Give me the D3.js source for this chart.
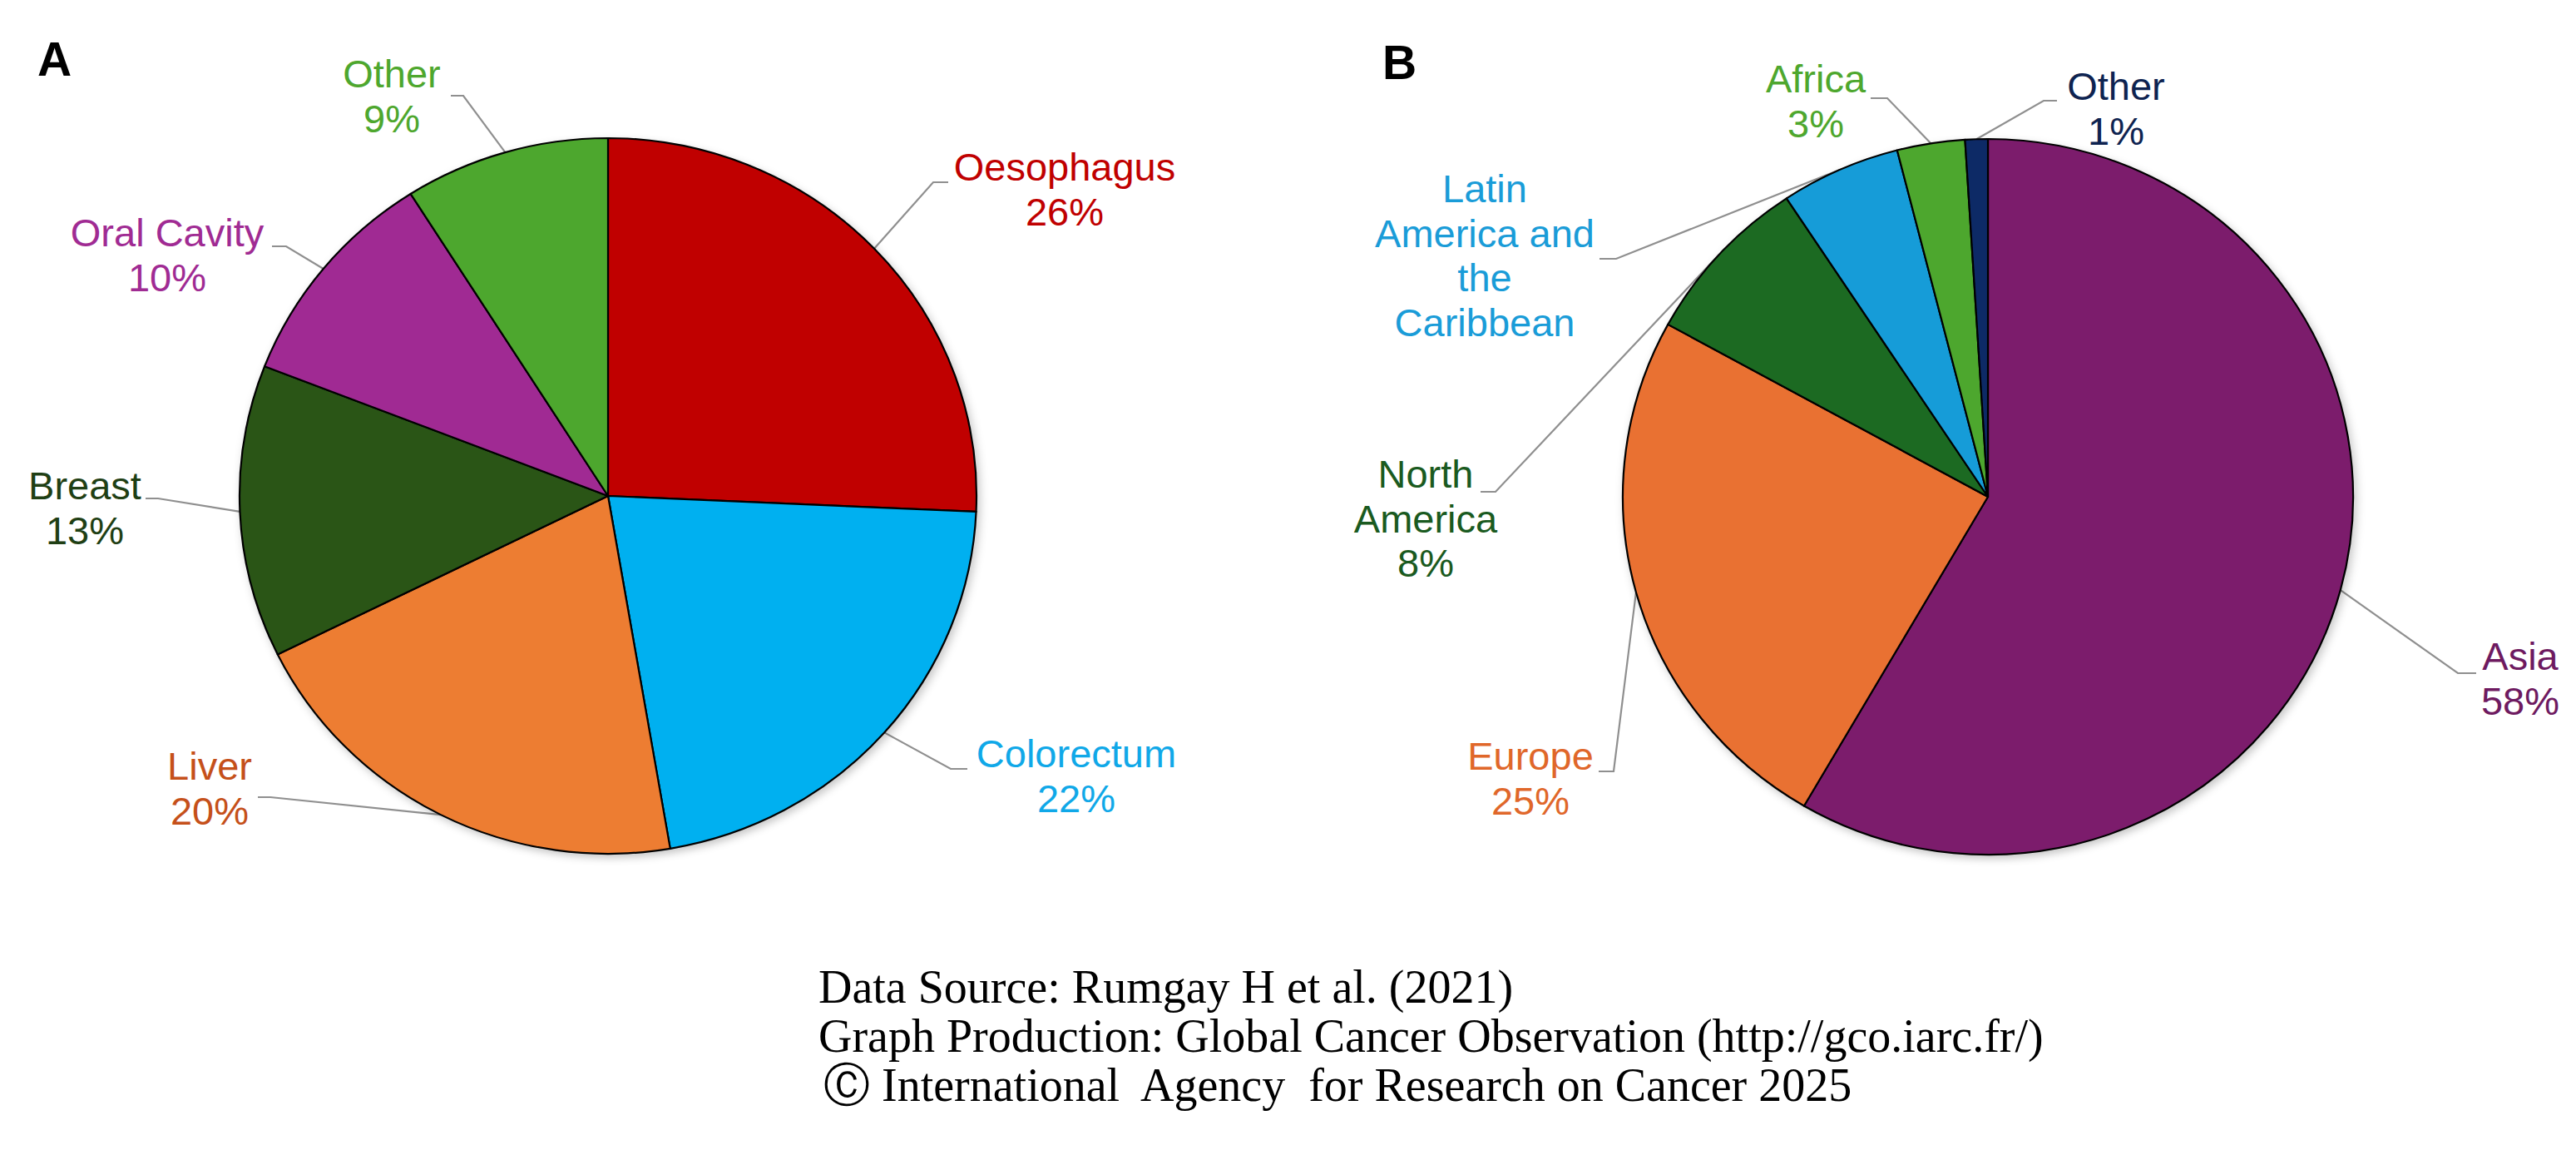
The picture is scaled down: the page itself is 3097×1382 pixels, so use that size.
<!DOCTYPE html>
<html>
<head>
<meta charset="utf-8">
<script src="https://cdn.jsdelivr.net/npm/d3@7/dist/d3.min.js"></script>
<style>
  html, body { margin: 0; padding: 0; background: #fff; }
  svg text { font-family: "Liberation Sans", Arial, sans-serif; }
</style>
</head>
<body>
<div id="container"></div>
<script>
// panel A: cancer sites
const cancerSites = ['Oesophagus', 'Colorectum', 'Liver', 'Breast', 'Oral Cavity', 'Other'];
const cancerShares = [25.7, 21.6, 20.4, 13.2, 10.1, 9.0];
const cancerLabelLines = [['Oesophagus'], ['Colorectum'], ['Liver'], ['Breast'], ['Oral Cavity'], ['Other']];
const cancerFill = ['#c00000', '#00b0f0', '#ed7d31', '#2a5418', '#a02b93', '#4ea72e'];
const cancerText = ['#c00000', '#10a8e8', '#c5501a', '#1f3f14', '#a02b93', '#4ea72e'];

// panel B: world regions
const regions = ['Asia', 'Europe', 'North America', 'Latin America and the Caribbean', 'Africa', 'Other'];
const regionShares = [58.4, 24.6, 7.7, 5.3, 3.0, 1.0];
const regionLabelLines = [['Asia'], ['Europe'], ['North', 'America'], ['Latin', 'America and', 'the', 'Caribbean'], ['Africa'], ['Other']];
const regionShowPct = [true, true, true, false, true, true];
const regionFill = ['#7b1f6c', '#e97132', '#1c6a24', '#149cd8', '#4ea72e', '#0e2a66'];
const regionText = ['#6e1a60', '#e0672a', '#1a5a20', '#1a9cd8', '#4ea72e', '#0e2350'];

const footerLines = [
  'Data Source: Rumgay H et al. (2021)',
  'Graph Production: Global Cancer Observation (http://gco.iarc.fr/)',
  '\u24b8 International  Agency  for Research on Cancer 2025'
];

// label placement, relative to pie centre: [text x, first baseline, line end x, line y, elbow x]
const cancerLayout = [
  [549, -379, 409, -377, 391],
  [563, 326, 432, 328, 412],
  [-479, 341, -421, 362, -406],
  [-629, 4, -556, 3, -541],
  [-530, -300, -404, -300, -387],
  [-260, -491, -189, -481, -174]
];
const regionLayout = [
  [640, 208, 587, 212, 565],
  [-550, 328, -468, 330, -450],
  [-676, -11, -610, -6, -592],
  [-605, -354, -467, -286, -447],
  [-207, -486, -141, -479, -121],
  [154, -477, 83, -476, 67]
];

const width = 3097, height = 1382;
const fontSize = 47, lineH = 53.5;

const svg = d3.select('#container').append('svg')
  .attr('width', width).attr('height', height)
  .attr('viewBox', `0 0 ${width} ${height}`);

const defs = svg.append('defs');
defs.append('filter').attr('id', 'shadow').attr('x', '-10%').attr('y', '-10%').attr('width', '120%').attr('height', '120%')
  .append('feDropShadow').attr('dx', 3).attr('dy', 4).attr('stdDeviation', 5)
  .attr('flood-color', '#000').attr('flood-opacity', 0.22);

function drawPie(opts) {
  const { cx, cy, rx, ry, values, fills, textColors, lines, showPct, layout } = opts;
  const sx = rx / ry;
  const pie = d3.pie().sort(null).value(d => d)(values);
  const arc = d3.arc().innerRadius(0).outerRadius(ry);

  // leader lines go under the pie
  const leaders = svg.append('g');
  pie.forEach((p, i) => {
    const a = (p.startAngle + p.endAngle) / 2;
    const ex = cx + ry * sx * Math.sin(a), ey = cy - ry * Math.cos(a);
    const L = layout[i];
    const pts = [[cx + L[2], cy + L[3]], [cx + L[4], cy + L[3]], [ex, ey]];
    leaders.append('path').attr('d', d3.line()(pts))
      .attr('fill', 'none').attr('stroke', '#8f8f8f').attr('stroke-width', 2.2);
  });

  const g = svg.append('g').attr('transform', `translate(${cx},${cy}) scale(${sx},1)`)
    .attr('filter', 'url(#shadow)');
  g.selectAll('path').data(pie).join('path')
    .attr('d', arc)
    .attr('fill', (d, i) => fills[i])
    .attr('stroke', '#000').attr('stroke-width', 2.2)
    .attr('vector-effect', 'non-scaling-stroke')
    .attr('stroke-linejoin', 'round');

  const labels = svg.append('g');
  pie.forEach((p, i) => {
    const L = layout[i];
    const rows = lines[i].slice();
    if (!showPct || showPct[i]) rows.push(Math.round(values[i]) + '%');
    const t = labels.append('text').attr('text-anchor', 'middle')
      .attr('font-size', fontSize).attr('fill', textColors[i]);
    rows.forEach((r, k) => {
      t.append('tspan').attr('x', cx + L[0]).attr('y', cy + L[1] + k * lineH).text(r);
    });
  });
}

drawPie({ cx: 731, cy: 596, rx: 443, ry: 430, values: cancerShares, fills: cancerFill,
  textColors: cancerText, lines: cancerLabelLines, layout: cancerLayout });
drawPie({ cx: 2390, cy: 597, rx: 439, ry: 430, values: regionShares, fills: regionFill,
  textColors: regionText, lines: regionLabelLines, showPct: regionShowPct, layout: regionLayout });

// panel letters
svg.append('text').attr('x', 45).attr('y', 91).attr('font-size', 57).attr('font-weight', 'bold').text('A');
svg.append('text').attr('x', 1662).attr('y', 95).attr('font-size', 57).attr('font-weight', 'bold').text('B');

// source footer
const foot = svg.append('text')
  .attr('font-size', 56).attr('fill', '#000')
  .style('font-family', '"Liberation Serif", "Times New Roman", serif')
  .attr('xml:space', 'preserve');
footerLines.forEach((s, k) => {
  foot.append('tspan').attr('x', k === 2 ? 990 : 984).attr('y', 1205 + k * 59).text(s);
});
</script>
</body>
</html>
